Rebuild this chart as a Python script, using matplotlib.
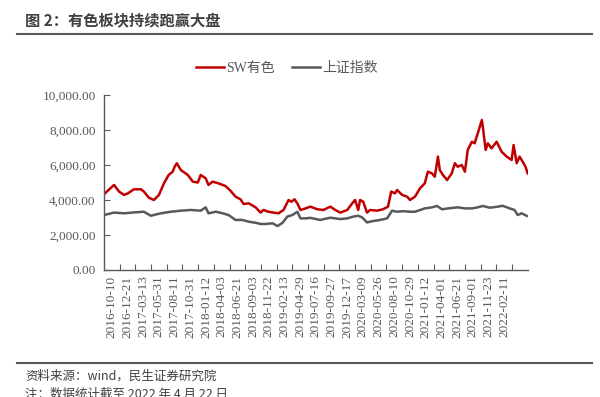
import matplotlib
matplotlib.use("Agg")
import matplotlib.pyplot as plt
from matplotlib.lines import Line2D
from matplotlib.ticker import FuncFormatter, FixedLocator, NullFormatter

# trading-day index (from 2016-10-10) and values
sw_idx = [0, 32, 48, 64, 76, 95, 118, 127, 143, 159, 175, 191, 206, 219, 225, 232, 245, 267, 283, 299,
          308, 324, 333, 346, 365, 387, 403, 419, 435, 445, 461, 483, 499, 508, 524, 540, 556, 572, 588, 597,
          607, 616, 626, 642, 657, 680, 699, 721, 737, 753, 775, 791, 800, 810, 816, 826, 838, 848, 870, 889,
          905, 915, 927, 934, 950, 966, 975, 991, 1007, 1022, 1032, 1045, 1054, 1064, 1070, 1080, 1093, 1108,
          1118, 1127, 1140, 1150, 1159, 1172, 1181, 1191, 1204, 1207, 1216, 1223, 1235, 1251, 1267, 1283,
          1299, 1305, 1315, 1324, 1334, 1343, 1350]
sw_vals = [4330, 4860, 4480, 4290, 4380, 4610, 4610, 4480, 4130, 4000, 4290, 4950, 5430, 5620, 5900, 6100,
           5710, 5430, 5050, 5000, 5430, 5240, 4860, 5050, 4950, 4800, 4530, 4190, 4040, 3770, 3810, 3580,
           3280, 3430, 3330, 3280, 3240, 3430, 4000, 3900, 4040, 3810, 3430, 3520, 3620, 3470, 3430, 3620,
           3430, 3280, 3430, 3810, 4000, 3430, 4000, 3900, 3280, 3430, 3390, 3470, 3620, 4480, 4380, 4570,
           4290, 4190, 4000, 4190, 4670, 4950, 5620, 5520, 5330, 6480, 5710, 5430, 5140, 5520, 6100, 5900,
           6000, 5620, 6860, 7330, 7240, 7810, 8570, 8190, 6860, 7240, 6950, 7330, 6760, 6480, 6290, 7140,
           6100, 6480, 6190, 5900, 5520]

sh_idx = [0, 32, 64, 95, 127, 149, 181, 213, 245, 276, 308, 324, 333, 356, 378, 397, 419, 441, 461, 483,
          499, 515, 537, 553, 569, 584, 600, 616, 626, 642, 657, 689, 721, 753, 775, 794, 810, 823, 838, 858,
          880, 902, 918, 934, 953, 975, 991, 1022, 1045, 1061, 1077, 1096, 1127, 1150, 1172, 1191, 1207,
          1229, 1255, 1270, 1293, 1308, 1318, 1331, 1347]
sh_vals = [3140, 3280, 3240, 3290, 3330, 3100, 3240, 3330, 3390, 3430, 3390, 3580, 3240, 3330, 3240, 3140,
           2860, 2860, 2760, 2700, 2630, 2630, 2670, 2510, 2700, 3050, 3140, 3330, 2950, 2950, 2980, 2860,
           2990, 2910, 2950, 3050, 3100, 3000, 2720, 2800, 2860, 2950, 3390, 3330, 3360, 3330, 3330, 3520,
           3580, 3660, 3470, 3520, 3580, 3520, 3520, 3580, 3660, 3560, 3620, 3670, 3520, 3430, 3140, 3240,
           3090]

tick_labels = ["2016-10-10", "2016-12-21", "2017-03-13", "2017-05-31", "2017-08-11", "2017-10-31",
               "2018-01-12", "2018-04-03", "2018-06-21", "2018-09-03", "2018-11-22", "2019-02-13",
               "2019-04-29", "2019-07-16", "2019-09-27", "2019-12-17", "2020-03-09", "2020-05-26",
               "2020-08-10", "2020-10-29", "2021-01-12", "2021-04-01", "2021-06-21", "2021-09-01",
               "2021-11-23", "2022-02-11"]
tick_step = 50
y_ticks = [0, 2000, 4000, 6000, 8000, 10000]

RED = "#C00000"
GRAY = "#595959"
TXT = "#595959"
CJK = ["Noto Sans CJK SC", "DejaVu Sans"]
SERIF = ["Liberation Serif", "Noto Sans CJK SC"]

fig = plt.figure(figsize=(6.0, 3.97), dpi=100)
ax = fig.add_axes([104 / 600, 1 - 270 / 397, 424 / 600, 175 / 397])

ax.plot(sw_idx, sw_vals, color=RED, lw=1.8, solid_joinstyle="round")
ax.plot(sh_idx, sh_vals, color=GRAY, lw=1.8, solid_joinstyle="round")

ax.set_ylim(0, 10000)
ax.set_xlim(0, 1351)
ax.set_yticks(y_ticks)
ax.yaxis.set_major_formatter(FuncFormatter(lambda v, p: f"{v:,.2f}"))

# category-style axis: tick marks at group boundaries, labels centred in each group
n = len(tick_labels)
ax.xaxis.set_major_locator(FixedLocator([tick_step * (k + 1) for k in range(n)]))
ax.xaxis.set_major_formatter(NullFormatter())
ax.xaxis.set_minor_locator(FixedLocator([tick_step * k + tick_step / 2 for k in range(n)]))
ax.set_xticklabels(tick_labels, minor=True, rotation=90)
ax.tick_params(axis="x", which="minor", length=0, pad=4)

for lab in ax.get_xticklabels(minor=True) + ax.get_yticklabels():
    lab.set_fontfamily(SERIF)
    lab.set_fontsize(9.5)
    lab.set_color(TXT)

for s in ["top", "right"]:
    ax.spines[s].set_visible(False)
for s in ["left", "bottom"]:
    ax.spines[s].set_color("#595959")
    ax.spines[s].set_linewidth(1.0)
ax.tick_params(axis="both", which="major", direction="in", length=4, width=0.8, color="#595959", pad=3)
ax.tick_params(axis="y", pad=6)

# legend
handles = [Line2D([], [], color=RED, lw=1.8), Line2D([], [], color=GRAY, lw=1.8)]
leg = fig.legend(handles, ["SW有色", "上证指数"], loc="center", bbox_to_anchor=(287 / 600, 1 - 68 / 397),
                 ncol=2, frameon=False, handlelength=2.0, columnspacing=1.2, handletextpad=0.2,
                 prop={"family": SERIF, "size": 10})
for t in leg.get_texts():
    t.set_color(TXT)

# title and rules
fig.text(25 / 600, 1 - 20 / 397, "图 2：有色板块持续跑赢大盘", family=CJK, fontsize=11,
         fontweight="bold", color="#404040", va="center", ha="left")
fig.add_artist(Line2D([17 / 600, 592 / 600], [1 - 34 / 397] * 2, color="#595959", lw=1.5))
fig.add_artist(Line2D([17 / 600, 592 / 600], [1 - 363 / 397] * 2, color="#595959", lw=1.5))

fig.text(25 / 600, 1 - 376 / 397, "资料来源：wind，民生证券研究院", family=CJK, fontsize=9,
         color="#404040", va="center", ha="left")
fig.text(25 / 600, 1 - 394 / 397, "注：数据统计截至 2022 年 4 月 22 日", family=CJK, fontsize=9,
         color="#404040", va="center", ha="left")

fig.savefig("out.png", dpi=100)
